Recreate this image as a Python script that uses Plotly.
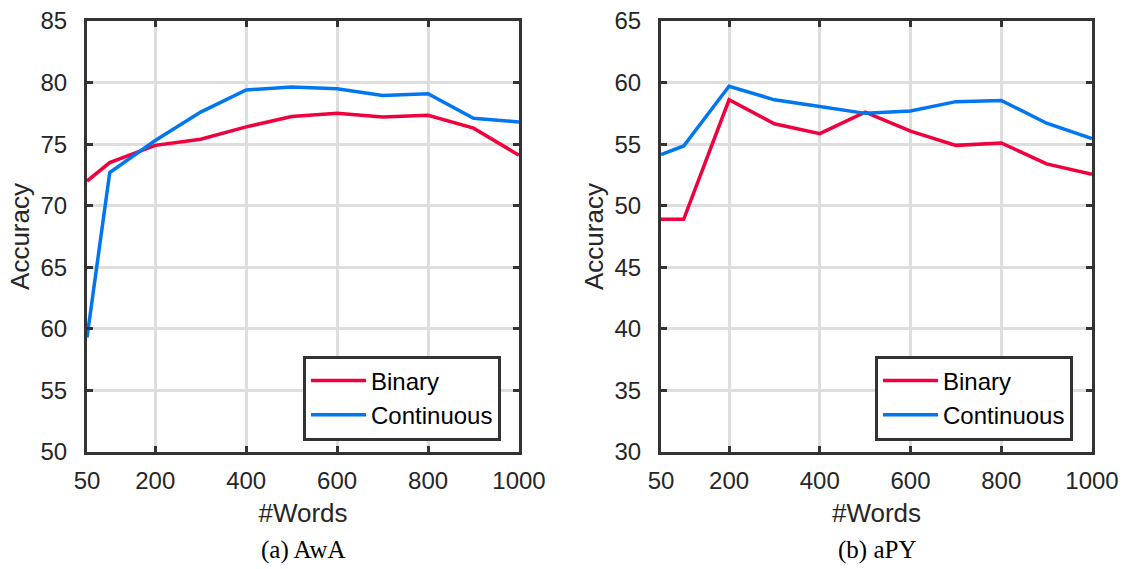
import plotly.graph_objects as go

words = [50, 100, 200, 300, 400, 500, 600, 700, 800, 900, 1000]
awa_binary = [72.0, 73.5, 74.9, 75.4, 76.4, 77.25, 77.5, 77.2, 77.35, 76.3, 74.1]
awa_continuous = [59.3, 72.7, 75.3, 77.6, 79.4, 79.65, 79.5, 78.95, 79.1, 77.1, 76.8]
apy_binary = [48.9, 48.9, 58.6, 56.65, 55.85, 57.6, 56.05, 54.9, 55.1, 53.4, 52.55]
apy_continuous = [54.15, 54.85, 59.7, 58.6, 58.05, 57.5, 57.7, 58.45, 58.55, 56.7, 55.45]
x_ticks = [50, 200, 400, 600, 800, 1000]
awa_y_ticks = [50, 55, 60, 65, 70, 75, 80, 85]
apy_y_ticks = [30, 35, 40, 45, 50, 55, 60, 65]
series_names = ["Binary", "Continuous"]
captions = ["(a) AwA", "(b) aPY"]

RED = "#F0003C"
BLUE = "#0077F0"
W, H = 1123, 569
SANS = "Liberation Sans, Arial, Helvetica, sans-serif"

fig = go.Figure()
fig.add_trace(go.Scatter(x=words, y=awa_binary, mode="lines", name=series_names[0],
                         line=dict(color=RED, width=3.5), xaxis="x", yaxis="y", legend="legend"))
fig.add_trace(go.Scatter(x=words, y=awa_continuous, mode="lines", name=series_names[1],
                         line=dict(color=BLUE, width=3.5), xaxis="x", yaxis="y", legend="legend"))
fig.add_trace(go.Scatter(x=words, y=apy_binary, mode="lines", name=series_names[0],
                         line=dict(color=RED, width=3.5), xaxis="x2", yaxis="y2", legend="legend2"))
fig.add_trace(go.Scatter(x=words, y=apy_continuous, mode="lines", name=series_names[1],
                         line=dict(color=BLUE, width=3.5), xaxis="x2", yaxis="y2", legend="legend2"))

tickfont = dict(family=SANS, size=24, color="#262626")
titlefont = dict(family=SANS, size=26, color="#262626")

def xaxis_cfg(domain, anchor):
    return dict(domain=domain, anchor=anchor, range=[50, 1000], tickvals=x_ticks,
                showgrid=True, gridcolor="#DEDEDE", gridwidth=3,
                showline=True, linecolor="#333333", linewidth=3, mirror="allticks",
                ticks="inside", ticklen=6, tickwidth=3, tickcolor="#333333",
                tickfont=tickfont, zeroline=False, automargin=False, ticklabelstandoff=5,
                title=dict(text="#Words", font=titlefont, standoff=12))

def yaxis_cfg(domain, anchor, rng, ticks):
    return dict(domain=domain, anchor=anchor, range=rng, tickvals=ticks,
                showgrid=True, gridcolor="#DEDEDE", gridwidth=3,
                showline=True, linecolor="#333333", linewidth=3, mirror="allticks",
                ticks="inside", ticklen=6, tickwidth=3, tickcolor="#333333",
                tickfont=tickfont, zeroline=False, ticklabelstandoff=12, automargin=False,
                title=dict(text="Accuracy", font=titlefont, standoff=4))

ydom = [1 - 452 / H, 1 - 21 / H]
legend_common = dict(xanchor="right", yanchor="middle", bgcolor="white",
                     bordercolor="#333333", borderwidth=3,
                     font=dict(family=SANS, size=24, color="black"),
                     tracegroupgap=0, itemwidth=55)
fig.update_layout(
    template="none",
    width=W, height=H,
    margin=dict(l=0, r=0, t=0, b=0, autoexpand=False),
    paper_bgcolor="white", plot_bgcolor="white",
    xaxis=xaxis_cfg([87 / W, 519 / W], "y"),
    yaxis=yaxis_cfg(ydom, "x", [50, 85], awa_y_ticks),
    xaxis2=xaxis_cfg([661 / W, 1092 / W], "y2"),
    yaxis2=yaxis_cfg(ydom, "x2", [30, 65], apy_y_ticks),
    legend=dict(x=501 / W, y=1 - 398 / H, **legend_common),
    legend2=dict(x=1073 / W, y=1 - 398 / H, **legend_common),
    showlegend=True,
)

for cx, text in zip([(87 + 519) / 2 / W, (661 + 1092) / 2 / W], captions):
    fig.add_annotation(x=cx, y=1 - 550 / H, xref="paper", yref="paper", text=text,
                       showarrow=False, xanchor="center", yanchor="middle",
                       font=dict(family="Liberation Serif, Times New Roman, serif", size=25, color="black"))

fig.write_html("out.html")
